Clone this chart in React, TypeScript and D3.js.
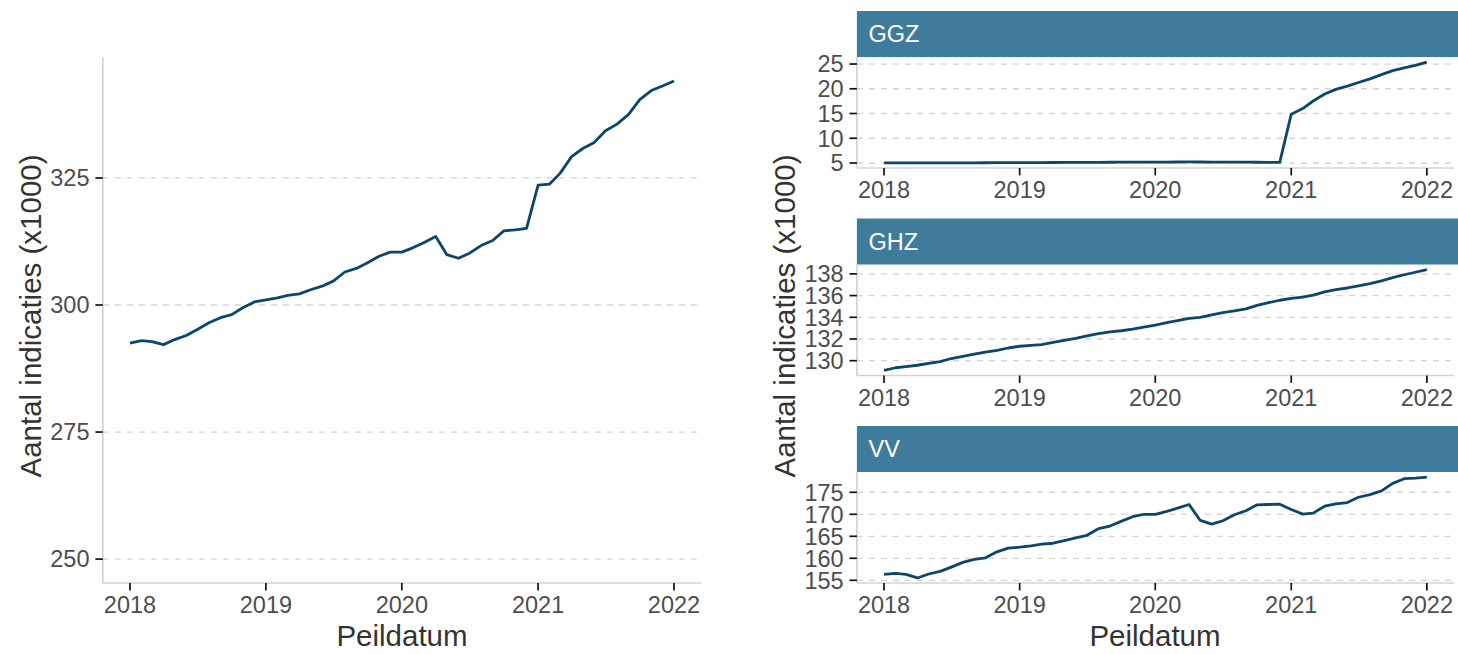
import * as d3 from "d3"

// monthly peildatum, Jan 2018 .. Jan 2022
const months = d3.utcMonth.range(new Date(Date.UTC(2018, 0, 1)), new Date(Date.UTC(2022, 0, 2)))
const yearTicks = [2018, 2019, 2020, 2021, 2022]

const totalValues = [
  292.5, 293.0, 292.8, 292.2, 293.2, 294.0, 295.2, 296.5, 297.5, 298.1, 299.5, 300.6,
  301.0, 301.4, 301.9, 302.2, 303.0, 303.7, 304.7, 306.5, 307.2, 308.3, 309.6, 310.4,
  310.4, 311.3, 312.3, 313.5, 309.9, 309.2, 310.2, 311.7, 312.7, 314.6, 314.8, 315.1,
  323.6, 323.8, 325.9, 329.2, 330.8, 332.0, 334.3, 335.6, 337.5, 340.4, 342.2, 343.1,
  344.1,
]
const totalTicks = [250, 275, 300, 325]

const ggzValues = [
  5.02, 5.02, 5.03, 5.02, 5.01, 5.01, 5.02, 5.03, 5.04, 5.05, 5.06, 5.07,
  5.08, 5.08, 5.09, 5.1, 5.11, 5.12, 5.13, 5.14, 5.15, 5.16, 5.17, 5.18,
  5.18, 5.19, 5.2, 5.21, 5.2, 5.19, 5.18, 5.17, 5.16, 5.15, 5.14, 5.13,
  14.87, 16.0, 17.53, 18.93, 19.87, 20.53, 21.27, 22.0, 22.87, 23.67, 24.2, 24.73,
  25.4,
]
const ggzTicks = [5, 10, 15, 20, 25]

const ghzValues = [
  129.1, 129.35, 129.45, 129.58, 129.75, 129.92, 130.2, 130.4, 130.6, 130.78, 130.95, 131.17,
  131.33, 131.42, 131.48, 131.68, 131.87, 132.05, 132.28, 132.5, 132.65, 132.76, 132.9, 133.1,
  133.28, 133.5, 133.7, 133.9, 134.0, 134.22, 134.42, 134.6, 134.78, 135.1, 135.35, 135.57,
  135.75, 135.86, 136.05, 136.35, 136.55, 136.7, 136.9, 137.1, 137.36, 137.65, 137.92, 138.15,
  138.4,
]
const ghzTicks = [130, 132, 134, 136, 138]

const vvValues = [
  156.35, 156.58, 156.35, 155.53, 156.43, 157.03, 158.0, 159.06, 159.74, 160.11, 161.47, 162.29,
  162.52, 162.82, 163.2, 163.42, 164.02, 164.62, 165.23, 166.73, 167.33, 168.38, 169.44, 169.96,
  169.96, 170.64, 171.39, 172.22, 168.6, 167.78, 168.53, 169.89, 170.79, 172.14, 172.22, 172.29,
  171.09, 170.04, 170.26, 171.84, 172.37, 172.67, 173.87, 174.47, 175.3, 177.03, 178.08, 178.23,
  178.46,
]
const vvTicks = [155, 160, 165, 170, 175]

const facetNames = ["GGZ", "GHZ", "VV"]
const facetValues = [ggzValues, ghzValues, vvValues]
const facetTicks = [ggzTicks, ghzTicks, vvTicks]

const FONT = "'Liberation Sans', Arial, Helvetica, sans-serif"
const LINE = "#0b4768"
const STRIP = "#3f7b9a"
const GRID = "#d4d4d4"
const AXIS = "#d3d3d3"
const TEXT = "#4d4d4d"
const TICK_LEN = 7.4
const TICK_FS = 23.5
const TITLE_FS = 29.5

// ggplot-style 5% expansion
const expand = (lo: number, hi: number) => {
  const r = hi - lo
  return [lo - r * 0.05, hi + r * 0.05]
}

const xDomain = () => {
  const a = months[0].getTime()
  const b = months[months.length - 1].getTime()
  const [lo, hi] = expand(a, b)
  return [new Date(lo), new Date(hi)]
}

function Panel({ left, right, top, bottom, values, ticks, yExtra }: any) {
  const x = d3.scaleUtc().domain(xDomain()).range([left, right])
  const lo = Math.min(d3.min(values) as number, yExtra ?? Infinity)
  const hi = d3.max(values) as number
  const y = d3.scaleLinear().domain(expand(lo, hi)).range([bottom, top])
  const line = d3.line<number>()
    .x((d, i) => x(months[i]))
    .y(d => y(d))

  return (
    <g>
      {ticks.map((t: number) => (
        <line key={"g" + t} x1={left} x2={right} y1={y(t)} y2={y(t)}
          stroke={GRID} strokeWidth={1.3} strokeDasharray="6,6" />
      ))}
      <path d={line(values) ?? ""} fill="none" stroke={LINE} strokeWidth={2.8}
        strokeLinejoin="round" strokeLinecap="butt" />
      <line x1={left} x2={left} y1={top} y2={bottom} stroke={AXIS} strokeWidth={1.7} />
      <line x1={left} x2={right} y1={bottom} y2={bottom} stroke={AXIS} strokeWidth={1.7} />
      {ticks.map((t: number) => (
        <g key={"y" + t}>
          <line x1={left - TICK_LEN} x2={left} y1={y(t)} y2={y(t)} stroke="#111" strokeWidth={1.7} />
          <text x={left - TICK_LEN - 5.9} y={y(t) + 8.4} textAnchor="end"
            fontSize={TICK_FS} fill={TEXT}>{t}</text>
        </g>
      ))}
      {yearTicks.map(yr => {
        const px = x(new Date(Date.UTC(yr, 0, 1)))
        return (
          <g key={"x" + yr}>
            <line x1={px} x2={px} y1={bottom} y2={bottom + TICK_LEN} stroke="#111" strokeWidth={1.7} />
            <text x={px} y={bottom + TICK_LEN + 5.9 + 16.8} textAnchor="middle"
              fontSize={TICK_FS} fill={TEXT}>{yr}</text>
          </g>
        )
      })}
    </g>
  )
}

export default function App() {
  const fLeft = 856.9
  const fRight = 1454
  const stripH = 46
  const panelH = 111

  return (
    <div style={{ position: "fixed", left: 0, top: 0 }}>
      <svg width={1458} height={654} fontFamily={FONT} style={{ display: "block", background: "#fff" }}>
        {/* total */}
        <Panel left={102.8} right={701.2} top={57} bottom={583}
          values={totalValues} ticks={totalTicks} yExtra={250} />
        <text transform="translate(41,316) rotate(-90)" textAnchor="middle"
          fontSize={TITLE_FS} fill="#333">Aantal indicaties (x1000)</text>
        <text x={402} y={646} textAnchor="middle" fontSize={TITLE_FS} fill="#333">Peildatum</text>

        {/* per sector */}
        {facetNames.map((name, i) => {
          const stripTop = 11 + i * 207.5
          const panelTop = stripTop + stripH
          return (
            <g key={name}>
              <rect x={fLeft} y={stripTop} width={fRight - fLeft + 4} height={stripH} fill={STRIP} />
              <text x={fLeft + 11.6} y={stripTop + stripH / 2 + 8.4} fontSize={TICK_FS} fill="#fff">{name}</text>
              <Panel left={fLeft} right={fRight} top={panelTop} bottom={panelTop + panelH}
                values={facetValues[i]} ticks={facetTicks[i]} />
            </g>
          )
        })}
        <text transform="translate(794.5,316) rotate(-90)" textAnchor="middle"
          fontSize={TITLE_FS} fill="#333">Aantal indicaties (x1000)</text>
        <text x={1155} y={646} textAnchor="middle" fontSize={TITLE_FS} fill="#333">Peildatum</text>
      </svg>
    </div>
  )
}
